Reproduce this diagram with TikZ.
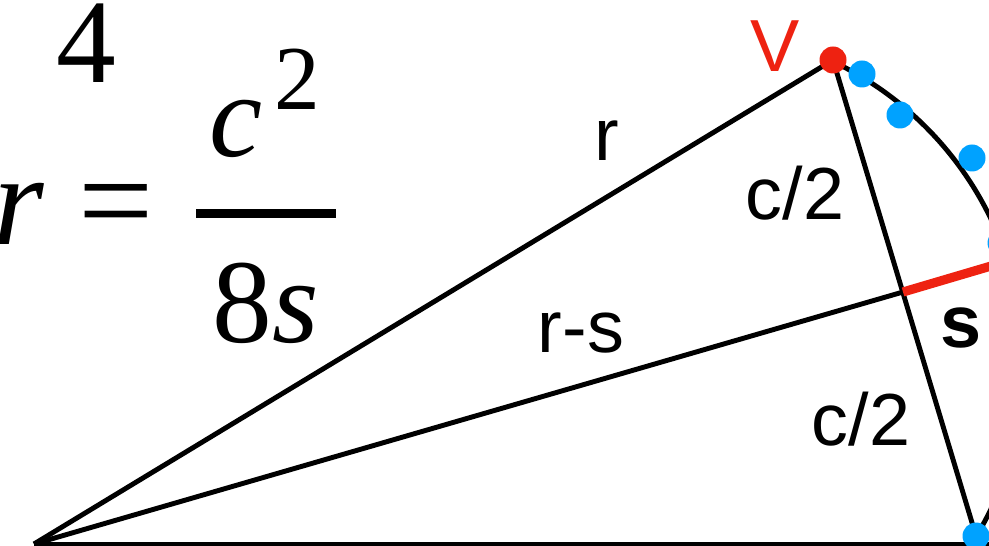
\documentclass[tikz,border=0pt]{standalone}
\usepackage{fontspec}
\setmainfont{Liberation Serif}
\newfontfamily\labelfont{Liberation Sans}
\usetikzlibrary{calc}
\definecolor{SagRed}{RGB}{238,34,17}
\definecolor{PtBlue}{RGB}{0,162,255}
\tikzset{
  seg/.style    = {line width=2.8pt, black},
  sag/.style    = {line width=5.2pt, SagRed},
  pt/.style     = {circle, inner sep=0pt, minimum size=0.54cm},
  bluept/.style = {pt, fill=PtBlue},
  redpt/.style  = {pt, fill=SagRed},
  lbl/.style    = {inner sep=0pt, anchor=base,
                   font=\labelfont\fontsize{42}{44}\selectfont},
  frm/.style    = {inner sep=0pt, anchor=base,
                   font=\fontsize{68}{70}\selectfont}
}

\begin{document}
\begin{tikzpicture}[x=0.02cm, y=-0.02cm]
\useasboundingbox (0,0) rectangle (989,546);
\clip (0,0) rectangle (989,546);
% points of the figure
\coordinate (O) at (34,544);
\coordinate (V) at (833,60);
\coordinate (B) at (976,536);
\coordinate (M) at (903,292);
\coordinate (S) at (1008,261);
\coordinate (E) at (1010,544);
% arc through V and B
\draw[seg] plot[domain=-64.7:30.9, samples=80] ({689+335*cos(\x)},{364+335*sin(\x)});
\draw[seg] (O) -- (V);
\draw[seg] (O) -- (E);
\draw[seg] (O) -- (M);
\draw[seg] (V) -- (B);
\draw[sag] (M) -- (S);
% points on the arc
\node[bluept] (d1) at (862,74) {};
\node[bluept] (d2) at (900,115) {};
\node[bluept] (d3) at (972,158) {};
\node[bluept] (d4) at (1001,243) {};
\node[bluept] (d5) at (B) {};
\node[redpt]  (pv) at (V) {};
% labels
\node[lbl, text=SagRed] (lv) at (775,72) {V};
\node[lbl] (lr)  at (607,161) {r};
\node[lbl] (lc1) at (795,220) {c/2};
\node[lbl] (lrs) at (581,353) {r-s};
\node[lbl] (lc2) at (861,445) {c/2};
\node[lbl, font=\labelfont\bfseries\fontsize{42}{44}\selectfont] (ls) at (961,348) {s};
% formula
\node[frm] (n4) at (86,83) {4};
\node[frm, anchor=base east, font=\fontsize{74}{76}\selectfont] (fr) at (44,245) {\itshape r};
\node[frm, font=\fontsize{76}{78}\selectfont] (feq) at (116,246) {=};
\node[frm] (fc) at (236,157) {\itshape c};
\node[frm, font=\fontsize{52}{54}\selectfont] (f2) at (297,110) {2};
\coordinate (bl) at (196,213.5);
\coordinate (br) at (336,213.5);
\draw[line width=5.1pt] (bl) -- (br);
\node[frm] (f8s) at (266,343) {8\itshape s};
\end{tikzpicture}
\end{document}
